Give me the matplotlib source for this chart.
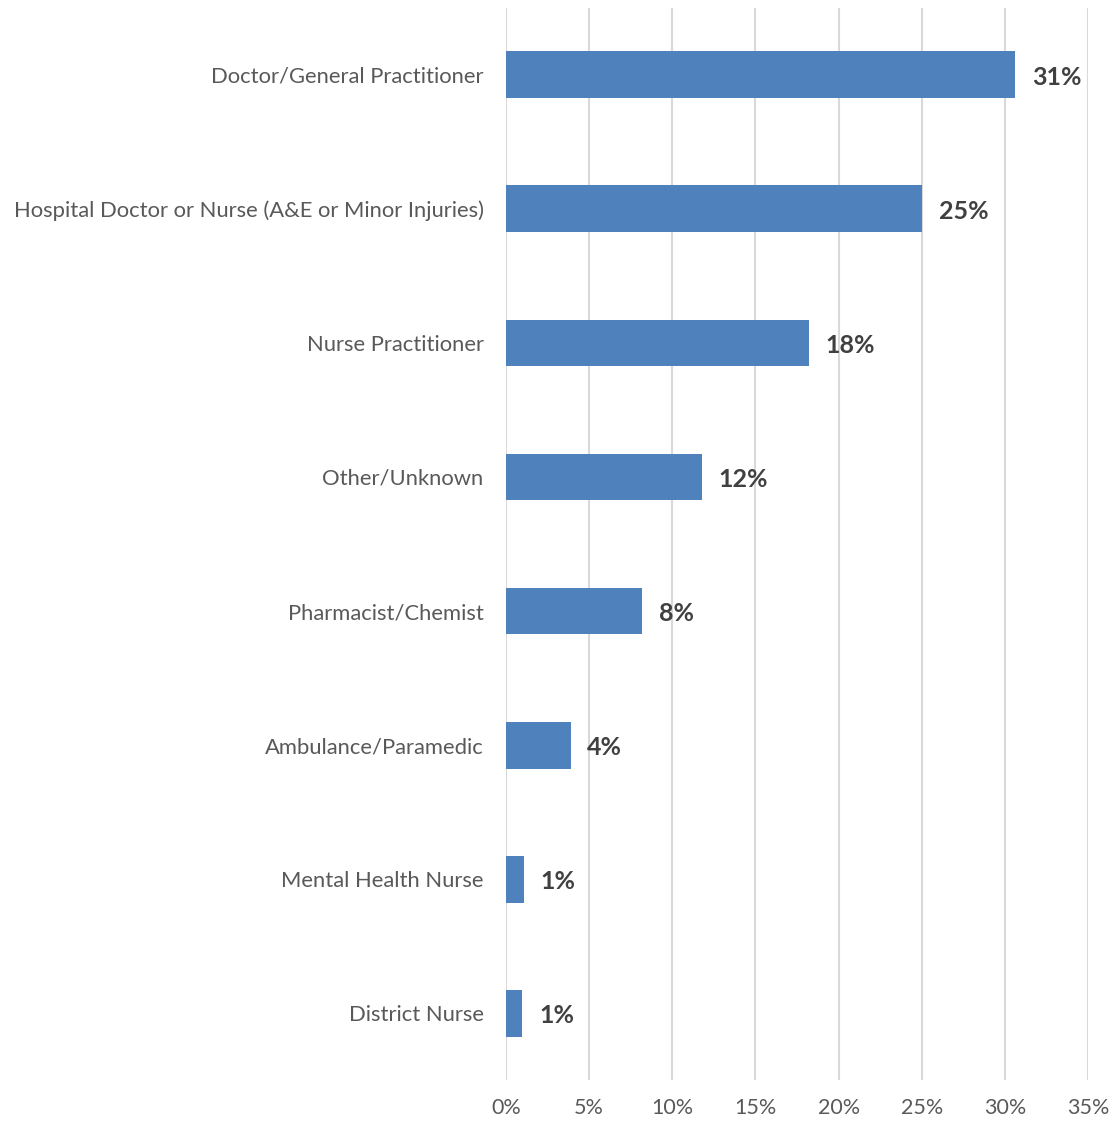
import matplotlib
matplotlib.use("Agg")
import matplotlib.pyplot as plt
from matplotlib.ticker import MultipleLocator, PercentFormatter

plt.rcParams['font.family'] = ['Lato', 'DejaVu Sans']

# who the patient saw, share of responses (%)
categories = [
    "Doctor/General Practitioner",
    "Hospital Doctor or Nurse (A&E or Minor Injuries)",
    "Nurse Practitioner",
    "Other/Unknown",
    "Pharmacist/Chemist",
    "Ambulance/Paramedic",
    "Mental Health Nurse",
    "District Nurse",
]
shares = [30.6, 25.0, 18.2, 11.8, 8.2, 3.9, 1.1, 1.0]

bar_color = "#4f81bd"
text_color = "#595959"

fig = plt.figure(figsize=(11.14, 11.24), dpi=100)
ax = fig.add_axes([0.454, 0.039, 0.523, 0.954])

pos = list(range(len(categories)))
bars = ax.barh(pos, shares, height=0.35, color=bar_color, zorder=3)

for b, v in zip(bars, shares):
    ax.text(b.get_width() + 1.0, b.get_y() + b.get_height() / 2 + 0.02, f"{v:.0f}%",
            va="center", ha="left", fontsize=18, fontweight="bold", color="#404040")

ax.set_xlim(0, 35)
ax.set_ylim(len(categories) - 0.5, -0.5)
ax.xaxis.set_major_locator(MultipleLocator(5))
ax.xaxis.set_major_formatter(PercentFormatter(decimals=0))
ax.grid(axis="x", color="#d9d9d9", linewidth=1.5, zorder=0)

ax.set_yticks(pos)
ax.set_yticklabels(categories)
ax.tick_params(axis="y", length=0, pad=16, labelsize=15.8, labelcolor=text_color)
ax.tick_params(axis="x", length=0, pad=13, labelsize=15.5, labelcolor=text_color)
for s in ax.spines.values():
    s.set_visible(False)

fig.savefig("out.png", dpi=100)
